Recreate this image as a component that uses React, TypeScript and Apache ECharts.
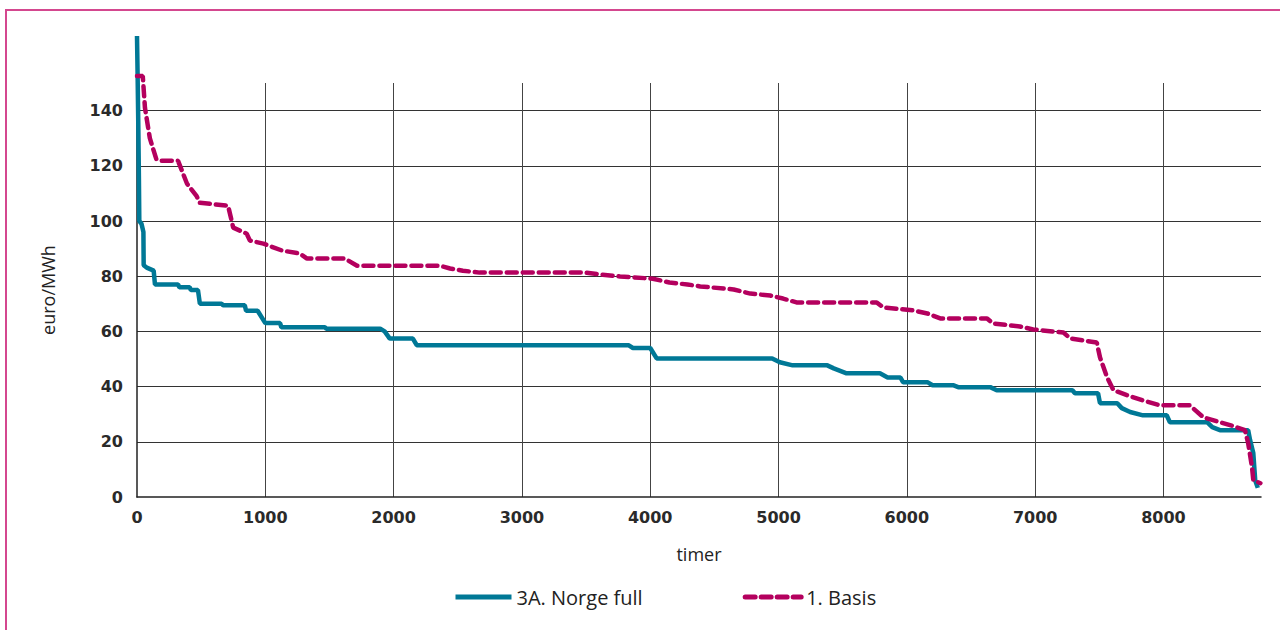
import React, { useEffect, useRef } from "react";
import * as echarts from "echarts";

const norgeX = [0, 5, 10, 15, 18, 35, 50, 52, 80, 130, 140, 320, 330, 410, 420, 475, 490, 660, 670, 840, 850, 940, 1000, 1115, 1125, 1465, 1475, 1895, 1930, 1970, 2150, 2180, 3830, 3865, 4000, 4050, 4950, 5010, 5110, 5380, 5430, 5530, 5790, 5850, 5950, 5970, 6160, 6200, 6360, 6400, 6650, 6700, 7290, 7310, 7490, 7505, 7640, 7675, 7740, 7840, 8025, 8050, 8340, 8380, 8440, 8660, 8675, 8700, 8715, 8735];
const norgeY = [167, 152, 135, 115, 100, 99, 96, 84, 83, 82, 77, 77, 76, 76, 75, 75, 70, 70, 69.5, 69.5, 67.5, 67.5, 63, 63, 61.5, 61.5, 61, 61, 60, 57.4, 57.4, 55, 55, 54, 54, 50.2, 50.2, 48.8, 47.7, 47.7, 46.6, 44.8, 44.8, 43.3, 43.3, 41.6, 41.6, 40.5, 40.5, 39.8, 39.8, 38.7, 38.7, 37.6, 37.6, 34, 34, 32.2, 30.8, 29.6, 29.6, 27.1, 27.1, 25.3, 24.2, 24.2, 20.6, 15.9, 6, 3.3];

const basisX = [0, 45, 62, 100, 150, 180, 320, 390, 465, 490, 710, 750, 855, 880, 985, 1130, 1270, 1325, 1620, 1715, 2360, 2440, 2540, 2670, 3500, 3610, 3765, 4020, 4150, 4290, 4390, 4650, 4780, 4935, 5035, 5140, 5765, 5815, 6050, 6160, 6260, 6625, 6670, 6880, 6985, 7220, 7275, 7480, 7505, 7560, 7610, 7715, 7840, 7975, 8205, 8310, 8440, 8545, 8635, 8660, 8690, 8700, 8755];
const basisY = [152.5, 152.5, 141, 130, 122.5, 121.8, 121.8, 113.5, 109, 106.6, 105.5, 97.6, 95.4, 92.9, 91.8, 89.3, 88.2, 86.4, 86.4, 83.8, 83.8, 82.8, 82, 81.3, 81.3, 80.6, 79.9, 79.1, 77.7, 77, 76.3, 75.2, 73.7, 73, 71.9, 70.5, 70.5, 68.7, 67.6, 66.5, 64.7, 64.7, 62.9, 61.8, 60.7, 59.6, 57.4, 56, 50.6, 43.4, 38.7, 36.9, 35, 33.2, 33.2, 28.9, 27.1, 25.7, 24.2, 19.5, 10.8, 6.1, 5];

const seriesNames = ["3A. Norge full", "1. Basis"];
const xAxisName = "timer";
const yAxisName = "euro/MWh";

const zip = (xs: number[], ys: number[]) => xs.map((x, i) => [x, ys[i]]);

export default function App() {
  const ref = useRef<HTMLDivElement>(null);
  useEffect(() => {
    if (!ref.current) return;
    const chart = echarts.init(ref.current, null, { renderer: "svg" });
    const labelFont = { fontFamily: "DejaVu Sans", fontWeight: "bold" as const, fontSize: 16, color: "#2a2a2a" };
    chart.setOption({
      animation: false,
      backgroundColor: "#ffffff",
      graphic: [
        {
          type: "rect",
          shape: { x: 6, y: 10, width: 1300, height: 650 },
          style: { fill: "none", stroke: "#d4478f", lineWidth: 2 },
          silent: true,
        },
      ],
      grid: { left: 137, right: 19, top: 83, bottom: 133, containLabel: false },
      legend: {
        left: 453,
        top: 587,
        padding: 0,
        itemWidth: 56,
        itemHeight: 14,
        itemGap: 100,
        itemStyle: { opacity: 0 },
        lineStyle: { width: 5 },
        textStyle: { fontFamily: "Open Sans", fontSize: 20, color: "#222", fontWeight: 500 },
        data: seriesNames,
      },
      xAxis: {
        type: "value",
        min: 0,
        max: 8760,
        interval: 1000,
        name: xAxisName,
        nameLocation: "middle",
        nameGap: 48,
        nameTextStyle: { fontFamily: "Open Sans", fontSize: 18, color: "#222", fontWeight: 500 },
        axisLine: { show: true, lineStyle: { color: "#222", width: 1.5 } },
        axisTick: { show: false },
        axisLabel: { ...labelFont, margin: 12, showMaxLabel: false, formatter: (v: number) => String(v) },
        splitLine: { show: true, showMaxLine: false, showMinLine: false, lineStyle: { color: "#444", width: 1 } },
      },
      yAxis: {
        type: "value",
        min: 0,
        max: 150,
        interval: 20,
        name: yAxisName,
        nameLocation: "middle",
        nameGap: 80,
        nameRotate: 90,
        nameTextStyle: { fontFamily: "Open Sans", fontSize: 18, color: "#222", fontWeight: 500 },
        axisLine: { show: true, lineStyle: { color: "#222", width: 1.5 } },
        axisTick: { show: false },
        axisLabel: { ...labelFont, margin: 14, showMaxLabel: false, formatter: (v: number) => String(v) },
        splitLine: { show: true, showMaxLine: false, showMinLine: false, lineStyle: { color: "#333", width: 1 } },
      },
      series: [
        {
          name: seriesNames[0],
          type: "line",
          data: zip(norgeX, norgeY),
          symbol: "none",
          clip: false,
          color: "#007896",
          lineStyle: { color: "#007896", width: 4.5 },
          z: 3,
        },
        {
          name: seriesNames[1],
          type: "line",
          data: zip(basisX, basisY),
          symbol: "none",
          clip: false,
          color: "#b4005e",
          lineStyle: { color: "#b4005e", width: 4.5, type: [10, 6], cap: "round" },
          z: 4,
        },
      ],
    });
    return () => chart.dispose();
  }, []);
  return (
    <div
      ref={ref}
      style={{ position: "absolute", left: 0, top: 0, width: 1280, height: 630 }}
    />
  );
}
